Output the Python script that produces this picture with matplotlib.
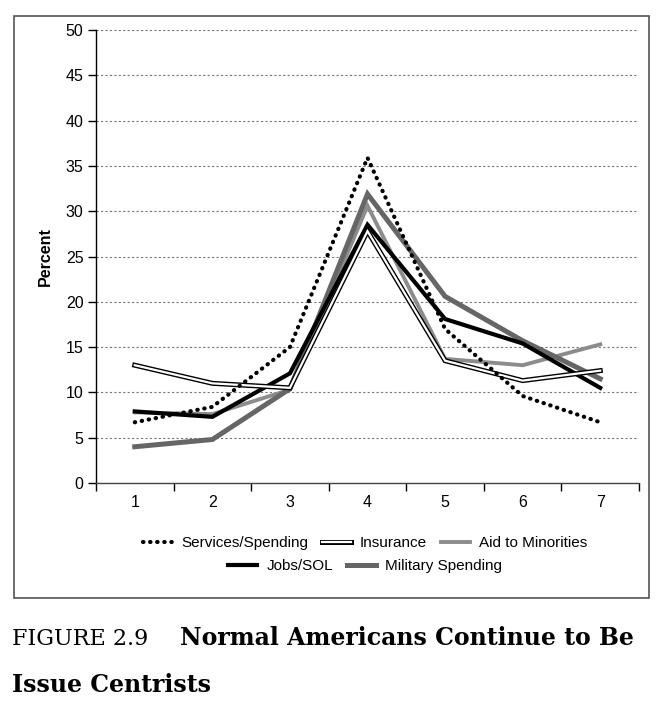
import matplotlib.pyplot as plt
import matplotlib.patheffects as pe
from matplotlib.patches import Rectangle

# scale position 1..7
positions = [1, 2, 3, 4, 5, 6, 7]

services_spending = [6.7, 8.4, 15.0, 35.9, 17.0, 9.6, 6.7]
insurance = [13.0, 11.0, 10.5, 27.8, 13.5, 11.3, 12.4]
aid_minorities = [7.8, 7.6, 10.3, 30.6, 13.7, 13.0, 15.3]
jobs_sol = [7.9, 7.3, 12.1, 28.5, 18.1, 15.4, 10.5]
military_spending = [4.0, 4.8, 10.4, 31.9, 20.6, 15.7, 11.5]

y_ticks = list(range(0, 51, 5))

plt.rcParams['font.family'] = ['Liberation Sans', 'DejaVu Sans']

fig = plt.figure(figsize=(6.66, 7.13), dpi=100)
ax = fig.add_axes([0.1441, 0.3226, 0.8154, 0.6353])

# outer frame round the chart
fig.patches.append(Rectangle((0.021, 0.1613), 0.9535, 0.8163, transform=fig.transFigure,
                             fill=False, edgecolor='#555555', linewidth=1.2))

l_aid, = ax.plot(positions, aid_minorities, color='#8c8c8c', lw=2.8,
                 solid_joinstyle='miter', label='Aid to Minorities', zorder=3)
l_mil, = ax.plot(positions, military_spending, color='#666666', lw=3.6,
                 solid_joinstyle='miter', label='Military Spending', zorder=4)
l_jobs, = ax.plot(positions, jobs_sol, color='black', lw=3.0,
                  solid_joinstyle='miter', label='Jobs/SOL', zorder=5)
l_ins, = ax.plot(positions, insurance, color='white', lw=1.6,
                 solid_joinstyle='miter', label='Insurance', zorder=6,
                 path_effects=[pe.Stroke(linewidth=3.6, foreground='black'), pe.Normal()])
l_serv, = ax.plot(positions, services_spending, color='black', lw=3.0,
                  linestyle=(0, (0.1, 1.6)), dash_capstyle='round',
                  label='Services/Spending', zorder=7)

ax.set_xlim(0.5, 7.5)
ax.set_ylim(0, 50)
ax.set_yticks(y_ticks)
ax.set_yticklabels([str(v) for v in y_ticks], fontsize=11.5)
ax.yaxis.grid(True, linestyle=(0, (2, 2)), color='#777777', linewidth=0.8)
ax.set_axisbelow(True)

# ticks at category boundaries, labels at centres
ax.set_xticks([p - 0.5 for p in positions] + [7.5])
ax.set_xticklabels([])
ax.set_xticks(positions, minor=True)
ax.set_xticklabels([str(p) for p in positions], minor=True, fontsize=11.5)
ax.tick_params(axis='x', which='major', direction='out', length=6, width=1)
ax.tick_params(axis='x', which='minor', length=0, pad=9)
ax.tick_params(axis='y', direction='out', length=6, width=1, pad=3)

ax.spines['top'].set_visible(False)
ax.spines['right'].set_visible(False)
ax.spines['left'].set_linewidth(1)
ax.spines['bottom'].set_linewidth(1)
ax.spines['bottom'].set_color('#444444')

ax.set_ylabel('Percent', fontsize=11.5, fontweight='bold', labelpad=9)

leg_kw = dict(frameon=False, fontsize=11, handlelength=1.9, handletextpad=0.6,
              columnspacing=0.9, borderpad=0, borderaxespad=0)
leg1 = fig.legend(handles=[l_serv, l_ins, l_aid], ncol=3, loc='center',
                  bbox_to_anchor=(0.548, 0.2385), **leg_kw)
leg2 = fig.legend(handles=[l_jobs, l_mil], ncol=2, loc='center',
                  bbox_to_anchor=(0.548, 0.206), **leg_kw)

fig.text(0.018, 0.0954, 'FIGURE 2.9', fontsize=16, family='DejaVu Serif',
         va='baseline', ha='left')
fig.text(0.270, 0.0954, 'Normal Americans Continue to Be', fontsize=17,
         family='DejaVu Serif', fontweight='bold', va='baseline', ha='left')
fig.text(0.018, 0.0295, 'Issue Centrists', fontsize=17, family='DejaVu Serif',
         fontweight='bold', va='baseline', ha='left')

fig.savefig('out.png', dpi=100)
